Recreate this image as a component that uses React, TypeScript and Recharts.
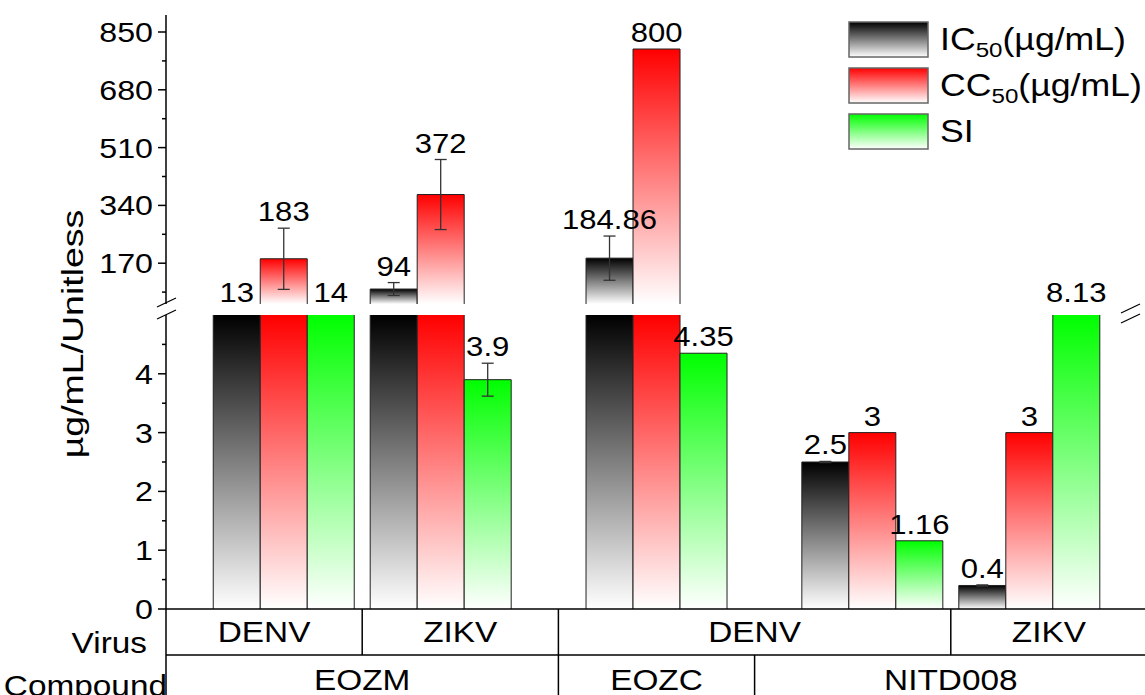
import React from "react";
import { BarChart, Bar, XAxis, YAxis, ErrorBar, LabelList } from "recharts";

// bar groups (x position on a 0..5 axis, one unit per table cell)
const groupPos = [0.6, 1.4, 2.5, 3.6, 4.4];
const ic50 = [13, 94, 184.86, 2.5, 0.4];
const cc50 = [183, 372, 800, 3, 3];
const si = [14, 3.9, 4.35, 1.16, 8.13];
const ic50Err = [0, 19, 65, 0.01, 0.01];
const cc50Err = [90, 103, 0, 0, 0];
const siErr = [0, 0.28, 0, 0, 0];

// category table under the plot
const virusLabels = ["DENV", "ZIKV", "DENV", "ZIKV"];
const virusBounds = [0, 1, 2, 4, 5];
const compoundLabels = ["EOZM", "EOZC", "NITD008"];
const compoundBounds = [0, 2, 3, 5];

// broken y axis
const upperTicks = [85, 170, 255, 340, 425, 510, 595, 680, 765, 850];
const upperMajor = [170, 340, 510, 680, 850];
const lowerTicks = [0, 0.5, 1, 1.5, 2, 2.5, 3, 3.5, 4, 4.5];
const lowerMajor = [0, 1, 2, 3, 4];
const UPPER_MIN = 50;
const UPPER_MAX = 900;
const LOWER_MAX = 5;

const series = [
  { key: "ic50", name: "IC", sub: "50", unit: "(µg/mL)", values: ic50, errors: ic50Err },
  { key: "cc50", name: "CC", sub: "50", unit: "(µg/mL)", values: cc50, errors: cc50Err },
  { key: "si", name: "SI", sub: "", unit: "", values: si, errors: siErr },
];
const colors: Record<string, string> = { ic50: "#000000", cc50: "#ff0000", si: "#00ff00" };

const FONT = "'Liberation Sans', Arial, sans-serif";
const SX = 1.15; // the original lettering runs wider than Arial
const W = 1170;
const MARGIN = { left: 46, right: 23 };

const rows = groupPos.map((x, i) => {
  const row: Record<string, number> = { x };
  series.forEach((s) => {
    const v = s.values[i];
    const e = s.errors[i];
    row[s.key + "Up"] = Math.max(v, UPPER_MIN);
    row[s.key + "UpErr"] = v >= UPPER_MIN ? e : 0;
    row[s.key + "Lo"] = Math.min(v, LOWER_MAX);
    row[s.key + "LoErr"] = v <= LOWER_MAX ? e : 0;
  });
  return row;
});

const centers = (b: number[]) => b.slice(1).map((v, i) => (b[i] + v) / 2);

function SText({ x, y, size, anchor = "start", sx = SX, rotate = 0, dy, children }: any) {
  return (
    <text
      transform={`translate(${x},${y})${rotate ? ` rotate(${rotate})` : ""} scale(${sx},1)`}
      x={0}
      y={0}
      dy={dy}
      textAnchor={anchor}
      fontSize={size}
      fontFamily={FONT}
      fill="#000"
    >
      {children}
    </text>
  );
}

const gradients = (prefix: string) => (
  <defs>
    {series.map((s) => (
      <linearGradient key={s.key} id={`${prefix}-${s.key}`} x1="0" y1="0" x2="0" y2="1">
        <stop offset="0" stopColor={colors[s.key]} />
        <stop offset="1" stopColor="#ffffff" />
      </linearGradient>
    ))}
  </defs>
);

const barShape = (values: number[], lower: boolean) => (props: any) => {
  const { x, y, width, height, fill, index } = props;
  if (!(height > 0)) return <g />;
  const open = lower && values[index] > LOWER_MAX;
  const d = open
    ? `M${x},${y} V${y + height} M${x + width},${y} V${y + height}`
    : `M${x},${y + height} V${y} H${x + width} V${y + height}`;
  return (
    <g>
      <rect x={x} y={y} width={width} height={height} fill={fill} />
      <path d={d} fill="none" stroke="#222" strokeWidth={1} />
    </g>
  );
};

const valueLabel = (values: number[], errors: number[], lower: boolean) => (props: any) => {
  const vb = props.viewBox ?? props;
  const { x, y, width, height } = vb;
  const raw = values[props.index];
  if (raw === undefined) return null;
  if (lower ? raw > LOWER_MAX : raw <= LOWER_MAX) return null;
  let top = y;
  let gap = 7;
  if (!lower && raw < UPPER_MIN) gap = 2;
  else {
    const span = lower ? raw : raw - UPPER_MIN;
    const err = errors[props.index];
    if (err && height > 0) top = y - (err * height) / span;
  }
  return (
    <SText x={x + width / 2} y={top - gap} anchor="middle" size={27}>
      {raw}
    </SText>
  );
};

const yTick = (major: number[]) => (props: any) => {
  const { x, y, payload } = props;
  const isMajor = major.includes(payload.value);
  return (
    <g>
      <line x1={x - (isMajor ? 8 : 4)} x2={x} y1={y} y2={y} stroke="#000" strokeWidth={1.5} />
      {isMajor && (
        <SText x={x - 13} y={y} dy="0.36em" anchor="end" size={28}>
          {payload.value}
        </SText>
      )}
    </g>
  );
};

const tableTick =
  (labels: string[], bounds: number[], rowH: number, title: string, titleX: number, titleDy: number, textDy: number) =>
  (props: any) => {
    const { x, y, payload } = props;
    const v = payload.value;
    const bi = bounds.indexOf(v);
    if (bi >= 0) {
      return (
        <g>
          <line x1={x} x2={x} y1={y} y2={y + rowH} stroke="#000" strokeWidth={1.5} />
          {bi === 0 && (
            <SText x={x + titleX} y={y + titleDy} anchor="end" size={29}>
              {title}
            </SText>
          )}
        </g>
      );
    }
    const li = centers(bounds).indexOf(v);
    return (
      <SText x={x} y={y + textDy} anchor="middle" size={29}>
        {labels[li]}
      </SText>
    );
  };

const Legend = () => (
  <g>
    {gradients("gLeg")}
    {series.map((s, i) => {
      const y0 = 22 + i * 46;
      return (
        <g key={s.key}>
          <rect x={849} y={y0} width={79} height={35} fill={`url(#gLeg-${s.key})`} stroke="#666" strokeWidth={1.5} />
          <SText x={940} y={y0 + 28} size={31}>
            {s.name}
            {s.sub && (
              <tspan fontSize={21} dy={7}>
                {s.sub}
              </tspan>
            )}
            {s.unit && (
              <tspan fontSize={31} dy={-7}>
                {s.unit}
              </tspan>
            )}
          </SText>
        </g>
      );
    })}
  </g>
);

export default function App() {
  return (
    <div
      style={{
        position: "fixed",
        left: 0,
        top: 0,
        width: 1145,
        height: 695,
        overflow: "hidden",
        background: "#fff",
      }}
    >
      <div style={{ position: "absolute", left: 0, top: 0 }}>
        <BarChart
          width={W}
          height={310}
          data={rows}
          margin={{ top: 15, right: MARGIN.right, left: MARGIN.left, bottom: 6 }}
          barGap={0}
          barSize={47}
        >
          {gradients("gUp")}
          <XAxis
            xAxisId="top"
            orientation="top"
            dataKey="x"
            type="number"
            domain={[0, 5]}
            height={0}
            tick={false}
            tickLine={false}
            axisLine={{ stroke: "#555", strokeWidth: 2 }}
          />
          <YAxis
            type="number"
            domain={[UPPER_MIN, UPPER_MAX]}
            allowDataOverflow
            ticks={upperTicks}
            interval={0}
            width={120}
            tickSize={0}
            tickMargin={0}
            tickLine={false}
            tick={yTick(upperMajor)}
            axisLine={{ stroke: "#000", strokeWidth: 1.5 }}
          />
          {series.map((s) => (
            <Bar
              key={s.key}
              xAxisId="top"
              dataKey={s.key + "Up"}
              fill={`url(#gUp-${s.key})`}
              shape={barShape(s.values, false)}
              isAnimationActive={false}
            >
              <ErrorBar dataKey={s.key + "UpErr"} width={6} stroke="#333" strokeWidth={1.3} direction="y" />
              <LabelList content={valueLabel(s.values, s.errors, false)} />
            </Bar>
          ))}
        </BarChart>
      </div>
      <div style={{ position: "absolute", left: 0, top: 300 }}>
        <BarChart
          width={W}
          height={405}
          data={rows}
          margin={{ top: 15, right: MARGIN.right, left: MARGIN.left, bottom: 0 }}
          barGap={0}
          barSize={47}
        >
          {gradients("gLo")}
          <XAxis
            xAxisId="b-compound"
            dataKey="x"
            type="number"
            domain={[0, 5]}
            allowDataOverflow
            ticks={[...compoundBounds, ...centers(compoundBounds)]}
            interval={0}
            height={50}
            tickSize={0}
            tickMargin={0}
            tickLine={false}
            tick={tableTick(compoundLabels, compoundBounds, 50, "Compound", 1, 41, 35)}
            axisLine={{ stroke: "#000", strokeWidth: 1.5 }}
          />
          <XAxis
            xAxisId="a-virus"
            dataKey="x"
            type="number"
            domain={[0, 5]}
            allowDataOverflow
            ticks={[...virusBounds, ...centers(virusBounds)]}
            interval={0}
            height={46}
            tickSize={0}
            tickMargin={0}
            tickLine={false}
            tick={tableTick(virusLabels, virusBounds, 46, "Virus", -19, 44, 33)}
            axisLine={{ stroke: "#000", strokeWidth: 1.5 }}
          />
          <YAxis
            type="number"
            domain={[0, LOWER_MAX]}
            allowDataOverflow
            ticks={lowerTicks}
            interval={0}
            width={120}
            tickSize={0}
            tickMargin={0}
            tickLine={false}
            tick={yTick(lowerMajor)}
            axisLine={{ stroke: "#000", strokeWidth: 1.5 }}
          />
          {series.map((s) => (
            <Bar
              key={s.key}
              xAxisId="a-virus"
              dataKey={s.key + "Lo"}
              fill={`url(#gLo-${s.key})`}
              shape={barShape(s.values, true)}
              isAnimationActive={false}
            >
              <ErrorBar dataKey={s.key + "LoErr"} width={6} stroke="#333" strokeWidth={1.3} direction="y" />
              <LabelList content={valueLabel(s.values, s.errors, true)} />
            </Bar>
          ))}
        </BarChart>
      </div>
      <svg
        width={1145}
        height={695}
        style={{ position: "absolute", left: 0, top: 0, pointerEvents: "none" }}
      >
        <Legend />
        <SText x={72} y={334} rotate={-90} sx={1.25} dy="0.36em" anchor="middle" size={30}>
          µg/mL/Unitless
        </SText>
        <g stroke="#000" strokeWidth={1.2}>
          <line x1={157} y1={307} x2={176} y2={298} />
          <line x1={157} y1={319} x2={176} y2={310} />
          <line x1={1121} y1={313} x2={1140} y2={304} />
          <line x1={1121} y1={323} x2={1140} y2={314} />
        </g>
      </svg>
    </div>
  );
}
